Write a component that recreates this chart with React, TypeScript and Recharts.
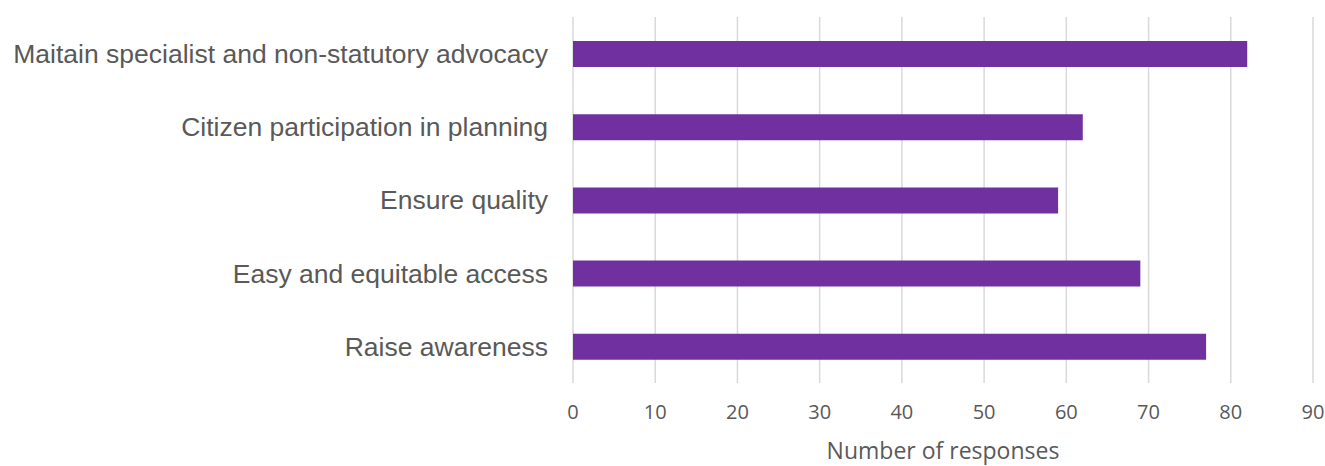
import { BarChart, Bar, XAxis, YAxis, CartesianGrid } from "recharts";

const categories = [
  "Maitain specialist and non-statutory advocacy",
  "Citizen participation in planning",
  "Ensure quality",
  "Easy and equitable access",
  "Raise awareness",
];
const responses = [82, 62, 59, 69, 77];
const xTicks = [0, 10, 20, 30, 40, 50, 60, 70, 80, 90];

const data = categories.map((name, i) => ({ name, responses: responses[i] }));

export default function App() {
  return (
    <div style={{ position: "absolute", left: 0, top: 0, background: "#fff" }}>
      <BarChart
        width={1325}
        height={466}
        data={data}
        layout="vertical"
        margin={{ top: 17, right: 12, bottom: 0, left: 0 }}
      >
        <CartesianGrid horizontal={false} stroke="#d9d9d9" strokeWidth={1.5} />
        <XAxis
          type="number"
          domain={[0, 90]}
          ticks={xTicks}
          height={83}
          axisLine={false}
          tickLine={false}
          tickSize={0}
          tickMargin={22}
          tick={{ fill: "#595959", fontSize: 20, fontFamily: "Open Sans" }}
          label={{
            value: "Number of responses",
            position: "insideBottom",
            offset: 7,
            fill: "#595959",
            fontSize: 23,
            fontFamily: "Open Sans",
          }}
        />
        <YAxis
          type="category"
          dataKey="name"
          width={573}
          axisLine={false}
          tickLine={false}
          tickSize={0}
          tickMargin={25}
          interval={0}
          tick={{ fill: "#595959", fontSize: 26.5, fontFamily: "Liberation Sans" }}
        />
        <Bar dataKey="responses" fill="#7030a0" barSize={26} isAnimationActive={false} />
      </BarChart>
    </div>
  );
}
